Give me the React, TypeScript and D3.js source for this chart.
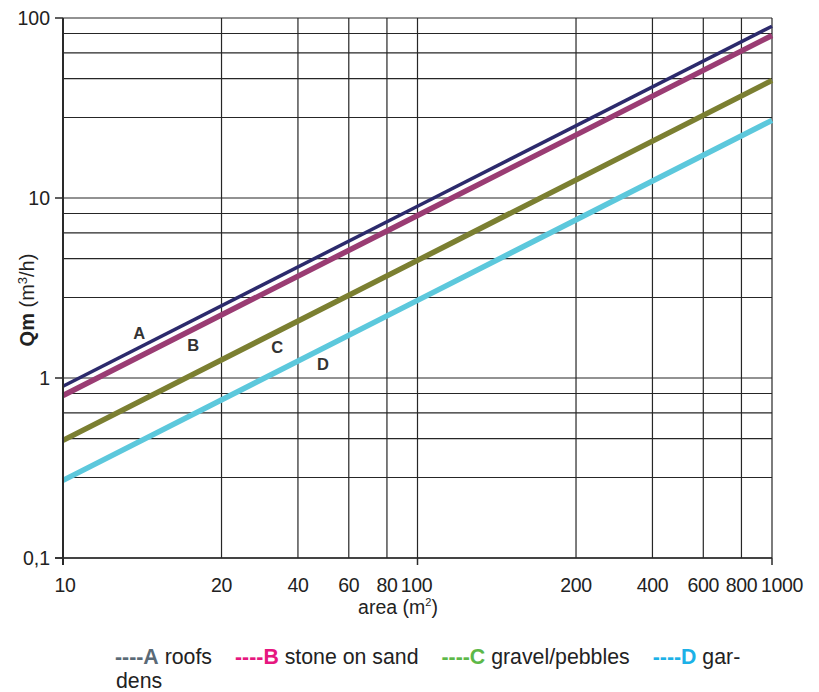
import React from "react";
import * as d3 from "d3";

// Data
const areas = [10, 100, 1000];
const seriesA = [0.9, 9, 90];
const seriesB = [0.8, 8, 80];
const seriesC = [0.45, 4.5, 45];
const seriesD = [0.27, 2.7, 27];
const seriesNames = ["A", "B", "C", "D"];
const seriesColors = ["#2c2a6c", "#9a3c73", "#7b7f31", "#5cc8dc"];
const seriesWidths = [3.5, 5.5, 5.5, 5.5];

// Grid lines as drawn in the original (labels sit on these lines)
const xGridValues = [10, 28, 46, 64, 82, 100, 280, 460, 640, 820, 1000];
const xTickLabels = ["10", "20", "40", "60", "80", "100", "200", "400", "600", "800", "1000"];
const xMajorValues = [10, 100, 1000];
const yGridValues = [0.1, 0.28, 0.46, 0.64, 0.82, 1, 2.8, 4.6, 6.4, 8.2, 10, 28, 46, 64, 82, 100];
const yMajorValues = [0.1, 1, 10, 100];
const yTickLabels = ["0,1", "1", "10", "100"];

// Curve labels (data coordinates)
const labelArea = [16.4, 23.3, 40.2, 54.1];
const labelQ = [1.78, 1.52, 1.49, 1.2];

// Legend
const legendKeys = ["----A", "----B", "----C", "----D"];
const legendNames = ["roofs", "stone on sand", "gravel/pebbles", "gar-"];
const legendColors = ["#5a6a76", "#e6177f", "#5cb848", "#1cb1e7"];
const legendWrap = "dens";

const W = 819;
const H = 692;
const left = 63, right = 772, top = 18, bottom = 558;

export default function App() {
  const x = d3.scaleLog().domain([10, 1000]).range([left, right]);
  const y = d3.scaleLog().domain([0.1, 100]).range([bottom, top]);
  const allSeries = [seriesA, seriesB, seriesC, seriesD];
  const line = d3
    .line<[number, number]>()
    .x((d) => x(d[0]))
    .y((d) => y(d[1]));
  const font = "'Liberation Sans', Arial, Helvetica, sans-serif";

  return (
    <svg
      width={W}
      height={H}
      style={{ position: "absolute", left: 0, top: 0, display: "block", background: "#fff" }}
      fontFamily={font}
    >
      {/* grid */}
      <g stroke="#262626" strokeWidth={1.2}>
        {yGridValues.map((v, i) => (
          <line key={"hy" + i} x1={left} x2={right} y1={y(v)} y2={y(v)} />
        ))}
        {xGridValues.map((v, i) => (
          <line key={"vx" + i} x1={x(v)} x2={x(v)} y1={top} y2={bottom} />
        ))}
      </g>

      {/* series */}
      <g fill="none">
        {allSeries.map((s, i) => (
          <path
            key={seriesNames[i]}
            d={line(areas.map((a, j) => [a, s[j]] as [number, number])) || ""}
            stroke={seriesColors[i]}
            strokeWidth={seriesWidths[i]}
          />
        ))}
      </g>

      {/* axes */}
      <g stroke="#2a2a2a">
        <line x1={left} x2={left} y1={top} y2={bottom + 7} strokeWidth={2} />
        <line x1={left - 8} x2={right} y1={bottom} y2={bottom} strokeWidth={1.5} />
        {yMajorValues.map((v, i) => (
          <line key={"yt" + i} x1={left - 8} x2={left} y1={y(v)} y2={y(v)} strokeWidth={1.5} />
        ))}
        {xMajorValues.map((v, i) => (
          <line key={"xt" + i} x1={x(v)} x2={x(v)} y1={bottom} y2={bottom + 7} strokeWidth={1.5} />
        ))}
      </g>

      {/* y tick labels */}
      <g fontSize={19.5} fill="#222" textAnchor="end">
        {yMajorValues.map((v, i) => (
          <text key={"yl" + i} x={50} y={y(v)} dy="0.36em">
            {yTickLabels[i]}
          </text>
        ))}
      </g>

      {/* x tick labels */}
      <g fontSize={19.5} fill="#222" textAnchor="middle" letterSpacing={-0.4}>
        {xGridValues.map((v, i) => (
          <text
            key={"xl" + i}
            x={x(v) + (i === xGridValues.length - 1 ? 10 : i === 0 ? 2 : i === 5 ? -1 : 0)}
            y={592}
          >
            {xTickLabels[i]}
          </text>
        ))}
      </g>

      {/* axis titles */}
      <text x={398} y={614} fontSize={19.5} fill="#222" textAnchor="middle">
        area (m
        <tspan fontSize={11} dy={-8}>2</tspan>
        <tspan dy={8}>)</tspan>
      </text>
      <text
        transform={`translate(34,300) rotate(-90)`}
        fontSize={20}
        fill="#222"
        textAnchor="middle"
      >
        <tspan fontWeight="bold">Qm</tspan>
        <tspan> (m</tspan>
        <tspan fontSize={13} dy={-7}>3</tspan>
        <tspan dy={7}>/h)</tspan>
      </text>

      {/* curve labels */}
      <g fontSize={16.5} fontWeight="bold" fill="#333" textAnchor="middle">
        {seriesNames.map((n, i) => (
          <text key={"cl" + n} x={x(labelArea[i])} y={y(labelQ[i])} dy="0.36em">
            {n}
          </text>
        ))}
      </g>

      {/* legend */}
      <text x={115} y={664} fontSize={21.3} fill="#222">
        {legendKeys.map((k, i) => (
          <React.Fragment key={"lg" + i}>
            <tspan fontWeight="bold" fill={legendColors[i]} dx={i === 0 ? 0 : 23}>
              {k}
            </tspan>
            <tspan>{" " + legendNames[i]}</tspan>
          </React.Fragment>
        ))}
      </text>
      <text x={116} y={688} fontSize={21.3} fill="#222">
        {legendWrap}
      </text>
    </svg>
  );
}
